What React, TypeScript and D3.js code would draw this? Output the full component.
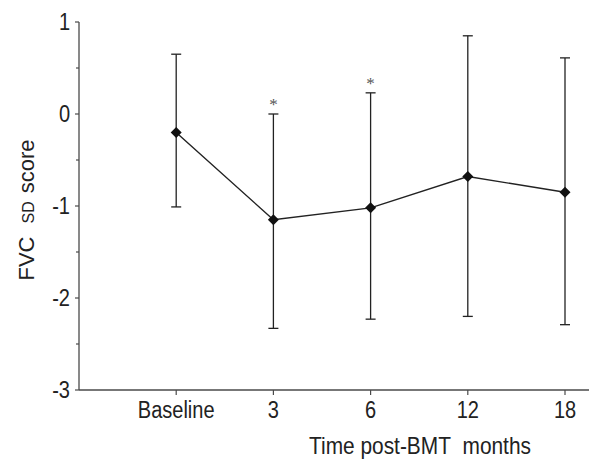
import React from "react";
import * as d3 from "d3";

const categories = ["Baseline", "3", "6", "12", "18"];
const means = [-0.2, -1.15, -1.02, -0.68, -0.85];
const upper = [0.65, 0.0, 0.23, 0.85, 0.61];
const lower = [-1.01, -2.33, -2.23, -2.2, -2.29];
const significant = [false, true, true, false, false];
const yTicks = [1, 0, -1, -2, -3];
const yMinorTicks = [0.5, -0.5, -1.5, -2.5];

const W = 589;
const H = 460;
const SX = 0.87;

function T(props: { x: number; y: number; anchor?: string; size: number; children: React.ReactNode; dy?: string }) {
  return (
    <text
      transform={`translate(${props.x},${props.y}) scale(${SX},1)`}
      textAnchor={props.anchor || "middle"}
      fontSize={props.size}
      dy={props.dy}
      fill="#222"
    >
      {props.children}
    </text>
  );
}

export default function App() {
  const x = d3.scaleLinear().domain([0, 5]).range([79, 565]);
  const y = d3.scaleLinear().domain([-3, 1]).range([390, 22]);
  const pts = means.map((m, i) => [x(i + 1), y(m)] as [number, number]);
  const line = d3.line()(pts) || "";
  const font = "'Liberation Sans', Arial, sans-serif";
  const ink = "#222";
  const axisColor = "#4a4a4a";
  const d = 5.5;
  return (
    <svg width={W} height={H} style={{ position: "absolute", left: 0, top: 0, background: "#fff" }} fontFamily={font}>
      {/* axes */}
      <line x1={x(0)} x2={x(0)} y1={y(1)} y2={y(-3)} stroke={axisColor} strokeWidth={1.3} />
      <line x1={x(0)} x2={W} y1={y(-3)} y2={y(-3)} stroke={axisColor} strokeWidth={1.3} />
      {yTicks.map((t) => (
        <g key={"yt" + t}>
          <line x1={x(0) - 4} x2={x(0)} y1={y(t)} y2={y(t)} stroke={axisColor} strokeWidth={1.2} />
          <T x={x(0) - 9} y={y(t)} dy="0.36em" anchor="end" size={23}>
            {t}
          </T>
        </g>
      ))}
      {yMinorTicks.map((t) => (
        <line key={"ym" + t} x1={x(0) - 3} x2={x(0)} y1={y(t)} y2={y(t)} stroke={axisColor} strokeWidth={1.2} />
      ))}
      {categories.map((c, i) => (
        <g key={"xt" + c}>
          <line x1={x(i + 1)} x2={x(i + 1)} y1={y(-3)} y2={y(-3) + 5} stroke={axisColor} strokeWidth={1.2} />
          <T x={x(i + 1)} y={y(-3) + 28} size={23}>
            {c}
          </T>
        </g>
      ))}
      {/* axis titles */}
      <T x={420} y={454} size={24}>
        Time post-BMT{"\u00a0\u00a0"}months
      </T>
      <text transform={`translate(34,210) rotate(-90)`} textAnchor="middle" fontSize={22} fill={ink}>
        FVC
        <tspan fontSize={16} dx={13}>SD</tspan>
        <tspan dx={8}>score</tspan>
      </text>
      {/* error bars */}
      {categories.map((c, i) => (
        <g key={"eb" + c} stroke={ink} strokeWidth={1.3}>
          <line x1={x(i + 1)} x2={x(i + 1)} y1={y(upper[i])} y2={y(lower[i])} />
          <line x1={x(i + 1) - 5} x2={x(i + 1) + 5} y1={y(upper[i])} y2={y(upper[i])} />
          <line x1={x(i + 1) - 5} x2={x(i + 1) + 5} y1={y(lower[i])} y2={y(lower[i])} />
        </g>
      ))}
      <path d={line} fill="none" stroke={ink} strokeWidth={1.4} />
      {pts.map(([px, py], i) => (
        <path
          key={"pt" + i}
          d={`M${px},${py - d}L${px + d},${py}L${px},${py + d}L${px - d},${py}Z`}
          fill="#111"
        />
      ))}
      {categories.map((c, i) =>
        significant[i] ? (
          <text
            key={"sig" + c}
            x={x(i + 1)}
            y={y(upper[i]) - 4}
            textAnchor="middle"
            fontSize={17}
            fontFamily="'Liberation Serif', 'Times New Roman', serif"
            fill="#555"
          >
            *
          </text>
        ) : null
      )}
    </svg>
  );
}
